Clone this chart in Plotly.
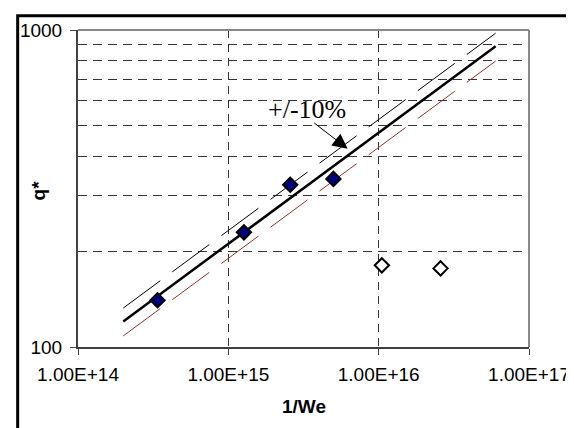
import math
import plotly.graph_objects as go

# ---- data ----
x_filled = [3.38e14, 1.27e15, 2.58e15, 5.0e15]
q_filled = [140.5, 230.0, 325.0, 339.0]
x_open = [1.05e16, 2.58e16]
q_open = [181.0, 177.0]
fit_x = [2.0e14, 6.0e16]
fit_q = [120.4, 888.0]
upper_q = [132.7, 977.0]
lower_q = [108.4, 798.0]
x_tickvals = [1e14, 1e15, 1e16, 1e17]
x_ticktext = ["1.00E+14", "1.00E+15", "1.00E+16", "1.00E+17"]
y_tickvals = [100, 1000]
y_ticktext = ["100", "1000"]
y_minor = [200, 300, 400, 500, 600, 700, 800, 900]
arrow_head = (6.22e15, 422.0)

# page has an 8px body margin; compensate so the plot lands where the reference has it
OFF = 8
W, H = 574, 428
PL, PR, PT, PB = 74, 530, 24, 347  # plot area in page pixels
PW, PH = PR - PL, PB - PT
ML, MR, MT, MB = PL - OFF, (W + OFF) - PR, PT - OFF, (H + OFF) - PB

def px2paper_x(px):
    return (px - PL) / PW

def px2paper_y(py):
    return (PB - py) / PH

fig = go.Figure()
fig.add_trace(go.Scatter(x=fit_x, y=upper_q, mode="lines",
                         line=dict(color="black", width=1, dash="46px,15px"),
                         showlegend=False, hoverinfo="skip"))
fig.add_trace(go.Scatter(x=fit_x, y=lower_q, mode="lines",
                         line=dict(color="#A52A2A", width=1, dash="46px,15px"),
                         showlegend=False, hoverinfo="skip"))
fig.add_trace(go.Scatter(x=fit_x, y=fit_q, mode="lines",
                         line=dict(color="black", width=2.5),
                         showlegend=False, hoverinfo="skip"))
fig.add_trace(go.Scatter(x=x_filled, y=q_filled, mode="markers",
                         marker=dict(symbol="diamond", size=11, color="#000080",
                                     line=dict(color="black", width=2)),
                         showlegend=False))
fig.add_trace(go.Scatter(x=x_open, y=q_open, mode="markers",
                         marker=dict(symbol="diamond", size=11, color="white",
                                     line=dict(color="black", width=2)),
                         showlegend=False))

tick_font = dict(family="Liberation Sans, Arial, sans-serif", size=19, color="black")

fig.update_layout(
    width=W, height=H, autosize=False,
    margin=dict(l=ML, r=MR, t=MT, b=MB, pad=0),
    paper_bgcolor="white", plot_bgcolor="white",
    xaxis=dict(type="log", range=[14, 17], tickvals=x_tickvals, ticktext=x_ticktext,
               ticks="outside", ticklen=6, tickcolor="#404040", tickfont=tick_font,
               ticklabelstandoff=3,
               showgrid=True, gridcolor="#333333", griddash="8px,6px", gridwidth=1,
               showline=True, linecolor="#404040", linewidth=2, zeroline=False),
    yaxis=dict(type="log", range=[2, 3], tickvals=y_tickvals, ticktext=y_ticktext,
               ticks="outside", ticklen=6, tickcolor="#404040", tickfont=tick_font,
               ticklabelstandoff=4,
               showgrid=False,
               minor=dict(tickvals=y_minor, showgrid=True, gridcolor="#333333",
                          griddash="9px,6px", gridwidth=1, ticks=""),
               showline=True, linecolor="#404040", linewidth=2, zeroline=False),
    shapes=[
        dict(type="line", xref="paper", yref="paper", x0=0, x1=1, y0=1, y1=1,
             line=dict(color="#888888", width=2)),
        dict(type="line", xref="paper", yref="paper", x0=1, x1=1, y0=0, y1=1,
             line=dict(color="#888888", width=2)),
        dict(type="rect", xref="paper", yref="paper",
             x0=px2paper_x(13), x1=px2paper_x(600),
             y0=px2paper_y(450), y1=px2paper_y(9.5),
             line=dict(color="black", width=3), fillcolor="rgba(0,0,0,0)"),
    ],
    annotations=[
        dict(text="+/-10%", xref="paper", yref="paper",
             x=px2paper_x(306), y=px2paper_y(105), xanchor="center", yanchor="middle",
             showarrow=False,
             font=dict(family="Liberation Serif, Times New Roman, serif", size=26, color="black")),
        dict(text="", xref="x", yref="y",
             x=math.log10(arrow_head[0]), y=math.log10(arrow_head[1]),
             ax=-35, ay=-27, showarrow=True, arrowhead=2, arrowsize=3,
             arrowwidth=1, arrowcolor="black"),
        dict(text="<b>1/We</b>", xref="paper", yref="paper",
             x=px2paper_x(302), y=px2paper_y(408), xanchor="center", yanchor="middle",
             showarrow=False,
             font=dict(family="Liberation Sans, Arial, sans-serif", size=19, color="black")),
        dict(text="<b>q*</b>", xref="paper", yref="paper", textangle=-90,
             x=px2paper_x(35), y=px2paper_y(187), xanchor="center", yanchor="middle",
             showarrow=False,
             font=dict(family="Liberation Sans, Arial, sans-serif", size=19, color="black")),
    ],
)

fig.write_html("out.html")
